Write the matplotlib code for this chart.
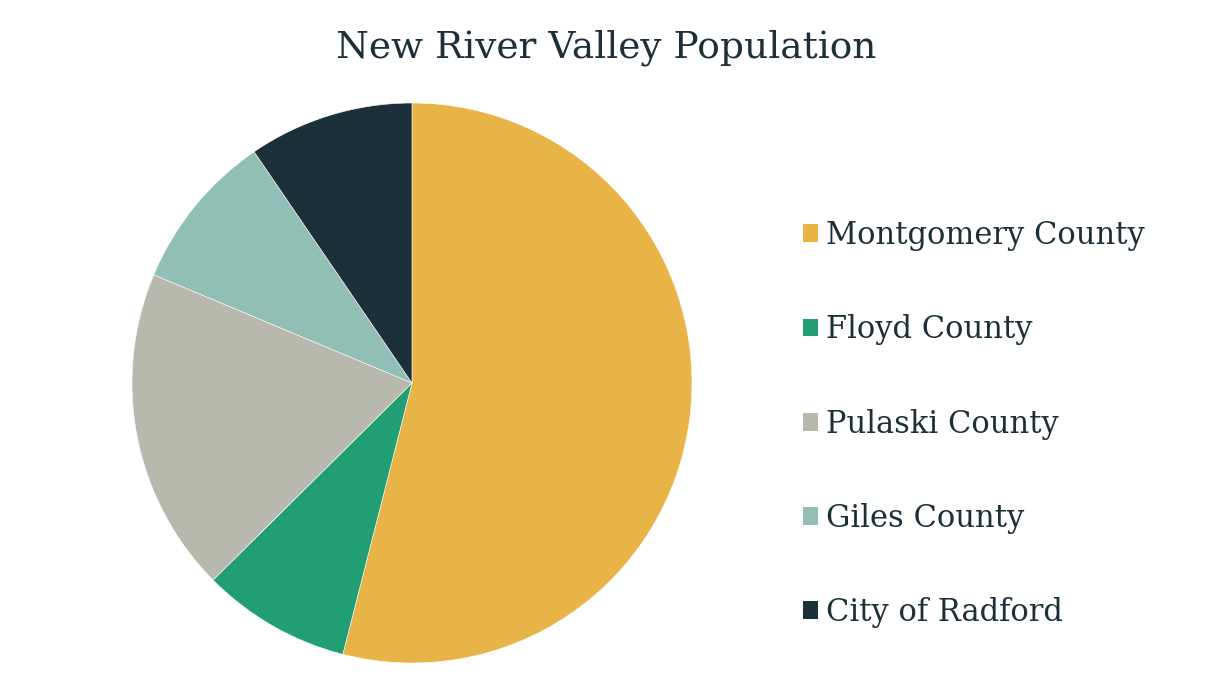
import matplotlib
matplotlib.use('Agg')
import matplotlib.pyplot as plt
from matplotlib.patches import Patch

counties = ['Montgomery County', 'Floyd County', 'Pulaski County', 'Giles County', 'City of Radford']
population = [98500, 15700, 34200, 16700, 17400]
colors = ['#E8B347', '#229E75', '#B8B8AC', '#92BFB5', '#1B3038']
text_color = '#1D3038'

fig = plt.figure(figsize=(12.12, 6.92), dpi=100)
fig.patch.set_facecolor('white')

# pie centre ~ (412, 383) px, radius ~ 280 px
ax = fig.add_axes([(412 - 280) / 1212, (692 - 383 - 280) / 692, 560 / 1212, 560 / 692])
ax.pie(population, colors=colors, startangle=90, counterclock=False,
       wedgeprops={'edgecolor': 'white', 'linewidth': 0.4})
ax.set_xlim(-1, 1)
ax.set_ylim(-1, 1)
ax.set_aspect('equal')
ax.axis('off')

fig.text(606 / 1212, 1 - 48 / 692, 'New River Valley Population', ha='center', va='center',
         fontsize=27, family='DejaVu Serif', color=text_color)

handles = [Patch(facecolor=c, edgecolor='none') for c in colors]
fig.legend(handles, counties, loc='center left', bbox_to_anchor=(775 / 1212, 1 - 424 / 692),
           frameon=False, handlelength=0.52, handleheight=0.52, handletextpad=0.26,
           labelspacing=2.07, labelcolor=text_color, prop={'family': 'DejaVu Serif', 'size': 22})

fig.savefig('out.png', dpi=100, facecolor='white')
